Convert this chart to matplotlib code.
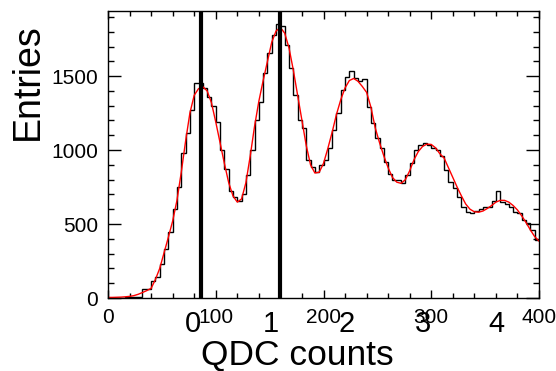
import matplotlib
matplotlib.use('Agg')
import matplotlib.pyplot as plt
import numpy as np
from matplotlib.ticker import MultipleLocator

plt.rcParams['font.family'] = ['Liberation Sans', 'DejaVu Sans']

# histogram, 100 bins of width 4 between 0 and 400
bin_edges = np.linspace(0, 400, 101)
entries = [
    1, 2, 2, 3, 4, 6, 7, 9, 58, 60,
    115, 145, 230, 330, 445, 600, 752, 977, 1117, 1270,
    1451, 1451, 1417, 1360, 1300, 1190, 1000, 870, 720, 680,
    655, 700, 830, 1000, 1200, 1327, 1518, 1653, 1777, 1851,
    1838, 1709, 1552, 1372, 1203, 1147, 932, 887, 853, 899,
    930, 1011, 1135, 1250, 1405, 1495, 1534, 1490, 1470, 1480,
    1290, 1180, 1079, 1011, 920, 840, 800, 797, 778, 831,
    910, 1000, 1034, 1045, 1034, 1011, 1000, 962, 865, 786,
    741, 685, 617, 583, 576, 590, 599, 613, 613, 657,
    723, 646, 633, 613, 583, 572, 527, 505, 459, 392,
]

# fit function sampled every 4 counts
fit_x = np.linspace(0, 400, 101)
fit_y = [
    4, 4, 5, 6, 8, 11, 16, 25, 37, 50,
    65, 125, 200, 305, 410, 520, 660, 850, 1060, 1250,
    1370, 1415, 1428, 1400, 1320, 1190, 1050, 910, 780, 690,
    648, 670, 780, 960, 1160, 1330, 1470, 1600, 1730, 1805,
    1829, 1790, 1690, 1540, 1370, 1200, 1030, 900, 845, 850,
    910, 1010, 1120, 1240, 1340, 1420, 1470, 1484, 1465, 1430,
    1390, 1290, 1150, 1050, 960, 880, 815, 783, 775, 800,
    860, 935, 990, 1025, 1040, 1038, 1015, 975, 945, 880,
    815, 750, 690, 635, 600, 583, 580, 588, 605, 625,
    648, 660, 660, 648, 625, 595, 555, 510, 460, 415,
    385,
]

# cut positions and photoelectron peak labels
cut_x = [86.5, 160]
peak_names = ['0', '1', '2', '3', '4']
peak_label_x = [78.5, 151, 221.5, 292, 360.7]

fig = plt.figure(figsize=(5.56, 3.71), dpi=100)
ax = fig.add_axes([108/556, 73/371, 431/556, 287/371])

ax.stairs(entries, bin_edges, baseline=None, color='black', lw=1.0)
ax.plot(fit_x, fit_y, color='red', lw=1.0)
for c in cut_x:
    ax.axvline(c, color='black', lw=3.0)

ax.set_xlim(0, 400)
ax.set_ylim(0, 1940)

ax.xaxis.set_major_locator(MultipleLocator(100))
ax.xaxis.set_minor_locator(MultipleLocator(20))
ax.yaxis.set_major_locator(MultipleLocator(500))
ax.yaxis.set_minor_locator(MultipleLocator(100))
ax.tick_params(axis='both', which='both', direction='in', top=True, right=True,
               width=1, labelsize=15)
ax.tick_params(axis='x', which='major', length=6, pad=7)
ax.tick_params(axis='x', which='minor', length=3.5)
ax.tick_params(axis='y', which='major', length=9.5, pad=7)
ax.tick_params(axis='y', which='minor', length=4.5)
for s in ax.spines.values():
    s.set_linewidth(1)

for name, px in zip(peak_names, peak_label_x):
    ax.text(px, -0.09, name, transform=ax.get_xaxis_transform(),
            ha='center', va='center', fontsize=21)

ax.text(0.44, -0.231, 'QDC counts', transform=ax.transAxes,
        ha='center', va='baseline', fontsize=25.5)
ax.text(-0.186, 0.754, 'Entries', transform=ax.transAxes, rotation=90,
        ha='center', va='center', fontsize=27)

fig.savefig('out.png', dpi=100)
